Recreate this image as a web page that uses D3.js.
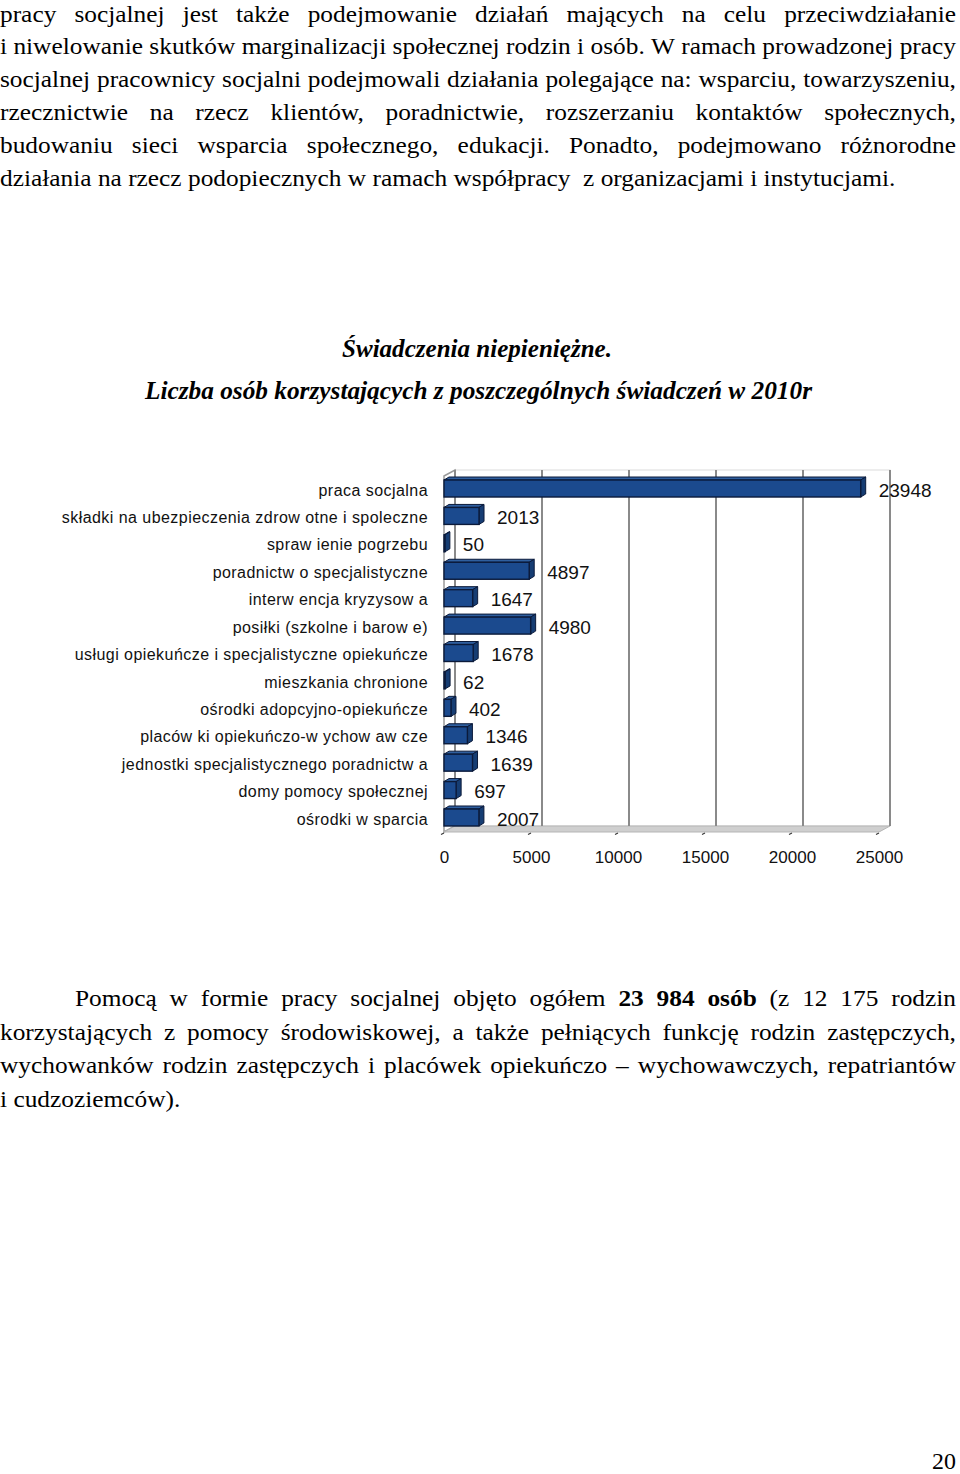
<!DOCTYPE html>
<html>
<head>
<meta charset="utf-8">
<script src="https://cdn.jsdelivr.net/npm/d3@7"></script>
<style>
html,body{margin:0;padding:0;background:#fff;}
svg{display:block;}
.sans{font-family:"Liberation Sans",Arimo,Arial,Helvetica,sans-serif;}
</style>
</head>
<body>
<svg id="page" width="960" height="1474"></svg>
<script>
// ---------- DATA ----------
const categories = [
  "praca socjalna",
  "składki na ubezpieczenia zdrow otne i spoleczne",
  "spraw ienie pogrzebu",
  "poradnictw o specjalistyczne",
  "interw encja kryzysow a",
  "posiłki (szkolne i barow e)",
  "usługi opiekuńcze i specjalistyczne opiekuńcze",
  "mieszkania chronione",
  "ośrodki adopcyjno-opiekuńcze",
  "placów ki opiekuńczo-w ychow aw cze",
  "jednostki specjalistycznego poradnictw a",
  "domy pomocy społecznej",
  "ośrodki w sparcia"
];
const values = [23948, 2013, 50, 4897, 1647, 4980, 1678, 62, 402, 1346, 1639, 697, 2007];
const tickValues = [0, 5000, 10000, 15000, 20000, 25000];

const title1 = "Świadczenia niepieniężne.";
const title2 = "Liczba osób korzystających z poszczególnych świadczeń w 2010r";

const para1 = [
  "pracy socjalnej jest także podejmowanie działań mających na celu przeciwdziałanie",
  "i niwelowanie skutków marginalizacji społecznej rodzin i osób. W ramach prowadzonej pracy",
  "socjalnej pracownicy socjalni podejmowali działania polegające na: wsparciu, towarzyszeniu,",
  "rzecznictwie na rzecz klientów, poradnictwie, rozszerzaniu kontaktów społecznych,",
  "budowaniu sieci wsparcia społecznego, edukacji. Ponadto, podejmowano różnorodne",
  "działania na rzecz podopiecznych w ramach współpracy  z organizacjami i instytucjami."
];
const para2 = [
  "Pomocą w formie pracy socjalnej objęto ogółem *23 *984 *osób (z 12 175 rodzin",
  "korzystających z pomocy środowiskowej, a także pełniących funkcję rodzin zastępczych,",
  "wychowanków rodzin zastępczych i placówek opiekuńczo – wychowawczych, repatriantów",
  "i cudzoziemców)."
];
const pageNumber = "20";

// ---------- FONT PICK ----------
const cv = document.createElement("canvas").getContext("2d");
function installed(name) {
  const s = "mmmWWiilq0123 abcdefghijklmnop";
  for (const fb of ["monospace", "sans-serif"]) {
    cv.font = `40px ${fb}`; const a = cv.measureText(s).width;
    cv.font = `40px "${name}", ${fb}`; const b = cv.measureText(s).width;
    if (Math.abs(a - b) > 0.5) return true;
  }
  return false;
}
const serifCandidates = ["Liberation Serif", "Tinos", "Times New Roman", "Nimbus Roman", "Nimbus Roman No9 L",
  "FreeSerif", "Noto Serif", "DejaVu Serif Condensed", "DejaVu Serif"];
const serifName = serifCandidates.find(installed) || "serif";
const serifFamily = `"${serifName}", serif`;
cv.font = `100px ${serifFamily}`;
const dAsc = cv.measureText("d").actualBoundingBoxAscent / 100;
const FS = Math.min(26, 16.5 / (dAsc || 0.68));

// ---------- PAGE ----------
const svg = d3.select("#page");
svg.append("rect").attr("width", 960).attr("height", 1474).attr("fill", "#fff");
const RIGHT = 956;

function measure(word, bold) {
  const t = svg.append("text").style("font-family", serifFamily).style("font-size", FS + "px")
    .style("font-weight", bold ? "bold" : "normal").text(word);
  const w = t.node().getComputedTextLength();
  t.remove();
  return w;
}
function parseWords(line) {
  return line.split(" ").map(w => w.startsWith("*") ? {t: w.slice(1), b: true} : {t: w, b: false});
}
const spaceW = measure("a a") - measure("aa");
const refWords = parseWords(para1[1]);
const refNat = d3.sum(refWords, w => measure(w.t, w.b)) + spaceW * (refWords.length - 1);
const SX = RIGHT / refNat;

function drawLine(line, x0, y, justify) {
  const words = parseWords(line);
  const widths = words.map(w => w.t ? measure(w.t, w.b) * SX : 0);
  let gap = spaceW * SX;
  if (justify) gap = (RIGHT - x0 - d3.sum(widths)) / (words.length - 1);
  let x = x0;
  words.forEach((w, i) => {
    if (w.t) {
      svg.append("text").style("font-family", serifFamily).style("font-size", FS + "px")
        .style("font-weight", w.b ? "bold" : "normal").attr("fill", "#000")
        .attr("transform", `translate(${x},${y}) scale(${SX},1)`).text(w.t);
    }
    x += widths[i] + gap;
  });
}
const p1Base = [22, 54, 87, 120, 153, 186];
para1.forEach((l, i) => drawLine(l, 0, p1Base[i], i < para1.length - 1));
const p2Base = [1006, 1039.5, 1073, 1106.5];
para2.forEach((l, i) => drawLine(l, i === 0 ? 75 : 0, p2Base[i], i < para2.length - 1));

const TFS = FS * 1.06;
svg.append("text").style("font-family", serifFamily).style("font-size", TFS + "px").style("font-weight", "bold")
  .style("font-style", "italic").attr("x", 342).attr("y", 357)
  .attr("textLength", 270).attr("lengthAdjust", "spacingAndGlyphs").text(title1);
svg.append("text").style("font-family", serifFamily).style("font-size", TFS + "px").style("font-weight", "bold")
  .style("font-style", "italic").attr("x", 145).attr("y", 399)
  .attr("textLength", 667).attr("lengthAdjust", "spacingAndGlyphs").text(title2);

svg.append("text").style("font-family", serifFamily).style("font-size", FS + "px").attr("x", RIGHT).attr("y", 1469)
  .attr("text-anchor", "end").text(pageNumber);

// ---------- CHART ----------
const x = d3.scaleLinear().domain([0, 25000]).range([444, 879]);
const y = d3.scaleBand().domain(categories).range([476.3, 832.7]).padding(0);
const step = y.step();
const wallDX = 11, wallDY = -6;
const wallTop = 476, floorY = 832;
const barDX = 5, barDY = -3, barH = 17;

const chart = svg.append("g");
chart.append("rect").attr("x", x(0) + wallDX).attr("y", wallTop + wallDY)
  .attr("width", x(25000) - x(0)).attr("height", floorY - wallTop)
  .attr("fill", "#fff").attr("stroke", "#dcdcdc").attr("stroke-width", 1);
chart.append("path")
  .attr("d", `M${x(0)},${wallTop}L${x(0) + wallDX},${wallTop + wallDY}L${x(0) + wallDX},${floorY + wallDY}L${x(0)},${floorY}Z`)
  .attr("fill", "#fff").attr("stroke", "#9a9a9a").attr("stroke-width", 1.5);
chart.append("path")
  .attr("d", `M${x(0)},${floorY}L${x(0) + wallDX},${floorY + wallDY}L${x(25000) + wallDX},${floorY + wallDY}L${x(25000)},${floorY}Z`)
  .attr("fill", "#cfcfcf").attr("stroke", "#b5b5b5").attr("stroke-width", 1);
chart.selectAll("line.grid").data(tickValues).join("line").attr("class", "grid")
  .attr("x1", d => x(d) + wallDX).attr("x2", d => x(d) + wallDX)
  .attr("y1", wallTop + wallDY).attr("y2", floorY + wallDY)
  .attr("stroke", "#8a8a8a").attr("stroke-width", 2);
chart.selectAll("line.tm").data(tickValues).join("line").attr("class", "tm")
  .attr("x1", d => x(d)).attr("x2", d => x(d) - 3)
  .attr("y1", floorY + 1).attr("y2", floorY + 2.5)
  .attr("stroke", "#333").attr("stroke-width", 1.2);

const bars = chart.selectAll("g.bar").data(categories.map((c, i) => ({c, v: values[i]}))).join("g").attr("class", "bar");
bars.each(function(d) {
  const g = d3.select(this);
  const cy = y(d.c) + step / 2 - 1.5;
  const y0 = cy - barH / 2;
  const x0 = x(0), x1 = x(d.v);
  g.append("path")
    .attr("d", `M${x0},${y0}L${x0 + barDX},${y0 + barDY}L${x1 + barDX},${y0 + barDY}L${x1},${y0}Z`)
    .attr("fill", "#2f5f9f").attr("stroke", "#0b1a3a").attr("stroke-width", 1).attr("stroke-linejoin", "round");
  g.append("path")
    .attr("d", `M${x1},${y0}L${x1 + barDX},${y0 + barDY}L${x1 + barDX},${y0 + barH + barDY}L${x1},${y0 + barH}Z`)
    .attr("fill", "#163d73").attr("stroke", "#0b1a3a").attr("stroke-width", 1).attr("stroke-linejoin", "round");
  g.append("rect")
    .attr("x", x0).attr("y", y0).attr("width", Math.max(0.5, x1 - x0)).attr("height", barH)
    .attr("fill", "#1b4a8e").attr("stroke", "#0b1a3a").attr("stroke-width", 1.4);
  g.append("text").attr("class", "sans").attr("x", x1 + 18).attr("y", y(d.c) + step / 2).attr("dy", "0.35em")
    .style("font-size", "19px").attr("fill", "#111").text(d.v);
});

const yAxis = chart.append("g").attr("transform", "translate(428,0)")
  .call(d3.axisLeft(y).tickSize(0).tickPadding(0));
yAxis.attr("font-family", null).attr("font-size", null);
yAxis.select(".domain").remove();
yAxis.selectAll("text").attr("class", "sans").style("font-size", "16px")
  .style("letter-spacing", "0.45px").attr("fill", "#111").attr("dy", "0.35em");

const xAxis = chart.append("g").attr("transform", "translate(0,851)")
  .call(d3.axisBottom(x).tickValues(tickValues).tickSize(0).tickPadding(0).tickFormat(d3.format("d")));
xAxis.attr("font-family", null).attr("font-size", null);
xAxis.select(".domain").remove();
xAxis.selectAll("text").attr("class", "sans").style("font-size", "17px").attr("fill", "#111");
</script>
</body>
</html>
